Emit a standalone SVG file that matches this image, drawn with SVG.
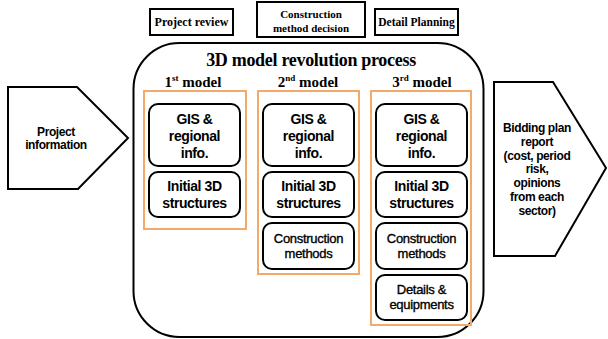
<svg xmlns="http://www.w3.org/2000/svg" width="608" height="339" viewBox="0 0 608 339">
<style>
.blk{fill:#fff;stroke:#000;stroke-width:2}
.top{fill:#fff;stroke:#000;stroke-width:2}
.org{fill:none;stroke:#F4A96A;stroke-width:2}
.box{fill:#fff;stroke:#000;stroke-width:2}
.serif{font-family:"Liberation Serif","Times New Roman",serif;font-weight:bold;fill:#000;text-anchor:middle}
.sb{font-family:"Liberation Sans",Arial,sans-serif;font-weight:bold;font-size:14px;letter-spacing:-0.4px;fill:#000;text-anchor:middle}
.sm{font-family:"Liberation Sans",Arial,sans-serif;font-weight:normal;font-size:13px;letter-spacing:-0.3px;fill:#000;stroke:#000;stroke-width:0.35;text-anchor:middle}
.ss{font-family:"Liberation Sans",Arial,sans-serif;font-weight:bold;font-size:12px;letter-spacing:-0.4px;fill:#000;text-anchor:middle}
</style>
<rect width="608" height="339" fill="#fff"/>
<g id="connectors"></g>
<g id="project-review"><rect class="top" x="150" y="9" width="83" height="26"/><text class="serif" x="191.5" y="26" font-size="12">Project review</text></g>
<g id="construction-method-decision"><rect class="top" x="257" y="2" width="108" height="35"/><text class="serif" x="311" y="18" font-size="11">Construction</text><text class="serif" x="311" y="32" font-size="11">method decision</text></g>
<g id="detail-planning"><rect class="top" x="375" y="9" width="83" height="26"/><text class="serif" x="416.5" y="26" font-size="11.5">Detail Planning</text></g>
<g id="process"><rect class="blk" x="133.5" y="43" width="350" height="294" rx="46" ry="46"/><text class="serif" x="311" y="66" font-size="18" letter-spacing="-0.3">3D model revolution process</text></g>
<g id="project-information"><polygon class="blk" points="8,87 77,87 128,138 78,189 8,189"/><text class="ss" x="56" y="136">Project</text><text class="ss" x="56" y="149">information</text></g>
<g id="bidding-plan-report"><polygon class="blk" points="494,82 553,82 606,168 555,256 494,256"/><text class="ss" x="537" y="132">Bidding plan</text><text class="ss" x="537" y="146">report</text><text class="ss" x="537" y="160">(cost, period</text><text class="ss" x="537" y="173">risk,</text><text class="ss" x="537" y="187">opinions</text><text class="ss" x="537" y="201">from each</text><text class="ss" x="537" y="215">sector)</text></g>
<g id="model-1"><text class="serif" x="193" y="87" font-size="15">1<tspan font-size="9" dy="-6">st</tspan><tspan dy="6"> model</tspan></text><rect class="org" x="144" y="91" width="102" height="138"/>
<g id="m1-gis"><rect class="box" x="149" y="104" width="91" height="62" rx="9"/><text class="sb" x="194.5" y="124">GIS &amp;</text><text class="sb" x="194.5" y="141">regional</text><text class="sb" x="194.5" y="158">info.</text></g>
<g id="m1-initial"><rect class="box" x="149" y="172" width="91" height="45" rx="9"/><text class="sb" x="194.5" y="191">Initial 3D</text><text class="sb" x="194.5" y="208">structures</text></g></g>
<g id="model-2"><text class="serif" x="308" y="87" font-size="15">2<tspan font-size="9" dy="-6">nd</tspan><tspan dy="6"> model</tspan></text><rect class="org" x="258" y="91" width="101" height="183"/>
<g id="m2-gis"><rect class="box" x="263" y="104" width="91" height="62" rx="9"/><text class="sb" x="308.5" y="124">GIS &amp;</text><text class="sb" x="308.5" y="141">regional</text><text class="sb" x="308.5" y="158">info.</text></g>
<g id="m2-initial"><rect class="box" x="263" y="172" width="91" height="45" rx="9"/><text class="sb" x="308.5" y="191">Initial 3D</text><text class="sb" x="308.5" y="208">structures</text></g>
<g id="m2-construction"><rect class="box" x="263" y="223" width="91" height="46" rx="9"/><text class="sm" x="308.5" y="243">Construction</text><text class="sm" x="308.5" y="258">methods</text></g></g>
<g id="model-3"><text class="serif" x="422" y="87" font-size="15">3<tspan font-size="9" dy="-6">rd</tspan><tspan dy="6"> model</tspan></text><rect class="org" x="371" y="91" width="100" height="234"/>
<g id="m3-gis"><rect class="box" x="376" y="104" width="91" height="62" rx="9"/><text class="sb" x="421.5" y="124">GIS &amp;</text><text class="sb" x="421.5" y="141">regional</text><text class="sb" x="421.5" y="158">info.</text></g>
<g id="m3-initial"><rect class="box" x="376" y="172" width="91" height="45" rx="9"/><text class="sb" x="421.5" y="191">Initial 3D</text><text class="sb" x="421.5" y="208">structures</text></g>
<g id="m3-construction"><rect class="box" x="376" y="223" width="91" height="46" rx="9"/><text class="sm" x="421.5" y="243">Construction</text><text class="sm" x="421.5" y="258">methods</text></g>
<g id="m3-details"><rect class="box" x="376" y="275" width="91" height="45" rx="9"/><text class="sm" x="421.5" y="294">Details &amp;</text><text class="sm" x="421.5" y="309">equipments</text></g></g>
</svg>
